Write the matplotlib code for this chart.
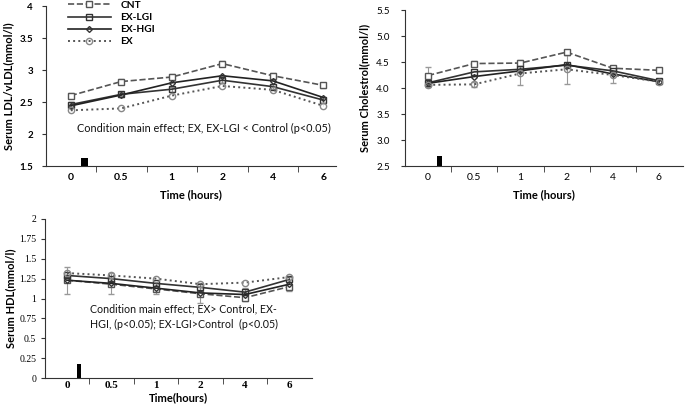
import numpy as np
import matplotlib
matplotlib.use('Agg')
from matplotlib import pyplot

# Time points (categorical x axis)
times = ['0', '0.5', '1', '2', '4', '6']

# Serum LDL/vLDL (mmol/l)
ldl_cnt = [2.60, 2.82, 2.89, 3.10, 2.91, 2.76]
ldl_lgi = [2.46, 2.62, 2.70, 2.84, 2.74, 2.53]
ldl_hgi = [2.44, 2.61, 2.80, 2.91, 2.83, 2.57]
ldl_ex = [2.37, 2.40, 2.60, 2.75, 2.69, 2.44]
ldl_err = [0.04, 0.04, 0.04, 0.04, 0.04, 0.04]

# Serum cholesterol (mmol/l)
chol_cnt = [4.24, 4.47, 4.48, 4.69, 4.38, 4.34]
chol_lgi = [4.10, 4.31, 4.36, 4.44, 4.33, 4.14]
chol_hgi = [4.09, 4.22, 4.33, 4.45, 4.27, 4.12]
chol_ex = [4.06, 4.07, 4.28, 4.36, 4.25, 4.12]
chol_cnt_err = [0.17, 0.05, 0.05, 0.05, 0.05, 0.05]
chol_ex_err = [0.05, 0.05, 0.22, 0.28, 0.16, 0.05]

# Serum HDL (mmol/l)
hdl_cnt = [1.23, 1.18, 1.12, 1.06, 1.01, 1.15]
hdl_lgi = [1.29, 1.25, 1.19, 1.14, 1.08, 1.24]
hdl_hgi = [1.23, 1.19, 1.13, 1.07, 1.05, 1.18]
hdl_ex = [1.32, 1.29, 1.25, 1.18, 1.20, 1.27]
hdl_err = [0.17, 0.13, 0.07, 0.13, 0.08, 0.09]

# Meal marker (position on category axis, height above axis floor)
meal_x = 0.27
meal_h = [0.12, 0.19, 0.18]

lab_font = 'Lato'
num_font = 'Liberation Serif'

def style_axis(ax, ymin, ymax, ystep, ylabels, xlabel, ylabel, xmax, tickfont, tickweight,
               xpad=5, ypad=6, labelpad=4):
    ax.spines['top'].set_visible(False)
    ax.spines['right'].set_visible(False)
    ax.spines['left'].set_color('#333333')
    ax.spines['bottom'].set_color('#333333')
    ax.set_xlim(-0.5, xmax)
    ax.set_ylim(ymin, ymax)
    ax.set_yticks(np.arange(ymin, ymax + ystep / 2, ystep))
    ax.set_yticklabels(ylabels, fontsize=7, family=tickfont, fontweight=tickweight)
    ax.set_xticks(range(len(times)))
    ax.set_xticklabels(times, fontsize=7.5, family=tickfont, fontweight=tickweight)
    ax.set_xticks(np.arange(0.5, 5, 1), minor=True)
    ax.tick_params(axis='x', which='major', length=0, pad=xpad)
    ax.tick_params(axis='x', which='minor', length=4, color='#333333')
    ax.tick_params(axis='y', length=3, color='#333333', pad=ypad)
    ax.set_xlabel(xlabel, fontsize=8, family=lab_font, fontweight='bold', labelpad=labelpad)
    ax.set_ylabel(ylabel, fontsize=8, family=lab_font, fontweight='bold')

def plot_series(ax, x, cnt, lgi, hgi, ex):
    ax.plot(x, cnt, '--', color='#555555', lw=1.2, marker='s', ms=4.5, mfc='white', mec='#555555', label='CNT')
    ax.plot(x, lgi, '-', color='#333333', lw=1.2, marker='s', ms=4.5, mfc='none', mec='#333333', label='EX-LGI')
    ax.plot(x, hgi, '-', color='#222222', lw=1.2, marker='D', ms=3, mfc='none', mec='#333333', label='EX-HGI')
    ax.plot(x, ex, ':', color='#555555', lw=1.4, marker='o', ms=4.5, mfc='none', mec='#888888', label='EX')

fig = pyplot.figure(figsize=(6.85, 4.16), dpi=100)
x = np.arange(len(times))

# Panel 1: LDL/vLDL
ax0 = fig.add_axes([45.5 / 685, 1 - 166 / 416, 290 / 685, 160 / 416])
ax0.bar(meal_x, meal_h[0], bottom=1.5, width=0.13, color='black')
ax0.errorbar(x, ldl_cnt, yerr=ldl_err, fmt='none', ecolor='#999999', elinewidth=0.8, capsize=2)
ax0.errorbar(x, ldl_lgi, yerr=ldl_err, fmt='none', ecolor='#999999', elinewidth=0.8, capsize=2)
plot_series(ax0, x, ldl_cnt, ldl_lgi, ldl_hgi, ldl_ex)
style_axis(ax0, 1.5, 4.0, 0.5, ['1.5', '2', '2.5', '3', '3.5', '4'],
           'Time (hours)', 'Serum LDL/vLDL(mmol/l)', 5.24, lab_font, 'bold', labelpad=5)
ax0.text(0.12, 2.08, 'Condition main effect; EX, EX-LGI < Control (p<0.05)',
         fontsize=7.8, family=lab_font, color='#111111', va='center')
ax0.legend(loc='upper left', bbox_to_anchor=(0.055, 1.07), frameon=False,
           prop={'family': lab_font, 'weight': 'bold', 'size': 7.3},
           handlelength=4.3, labelspacing=0.3, borderpad=0.1, handletextpad=0.9)

# Panel 2: total cholesterol
ax1 = fig.add_axes([405 / 685, 1 - 166 / 416, 278 / 685, 156 / 416])
ax1.bar(meal_x - 0.02, meal_h[1], bottom=2.5, width=0.11, color='black')
ax1.errorbar(x, chol_cnt, yerr=chol_cnt_err, fmt='none', ecolor='#999999', elinewidth=0.8, capsize=2)
ax1.errorbar(x, chol_ex, yerr=chol_ex_err, fmt='none', ecolor='#999999', elinewidth=0.8, capsize=2)
plot_series(ax1, x, chol_cnt, chol_lgi, chol_hgi, chol_ex)
style_axis(ax1, 2.5, 5.5, 0.5, ['2.5', '3.0', '3.5', '4.0', '4.5', '5.0', '5.5'],
           'Time (hours)', 'Serum Cholestrol(mmol/l)', 5.52, lab_font, 'normal',
           ypad=8, labelpad=5)
ax1.yaxis.labelpad = 4

# Panel 3: HDL
ax2 = fig.add_axes([44.7 / 685, 1 - 378 / 416, 267 / 685, 159 / 416])
ax2.bar(meal_x, meal_h[2], bottom=0, width=0.11, color='black')
ax2.errorbar(x, hdl_hgi, yerr=hdl_err, fmt='none', ecolor='#999999', elinewidth=0.8, capsize=2)
plot_series(ax2, x, hdl_cnt, hdl_lgi, hdl_hgi, hdl_ex)
style_axis(ax2, 0, 2.0, 0.25, ['0', '0.25', '0.5', '0.75', '1', '1.25', '1.5', '1.75', '2'],
           'Time(hours)', 'Serum HDL(mmol/l)', 5.5, num_font, 'normal',
           xpad=2, ypad=3, labelpad=2)
ax2.set_xticklabels(times, fontsize=8, family=num_font, fontweight='bold')
ax2.yaxis.labelpad = 2
ax2.text(0.52, 0.77, 'Condition main effect; EX> Control, EX-\nHGI, (p<0.05); EX-LGI>Control  (p<0.05)',
         fontsize=7.7, family=lab_font, color='#111111', linespacing=1.45, va='center')

pyplot.savefig('out.png', dpi=100)
